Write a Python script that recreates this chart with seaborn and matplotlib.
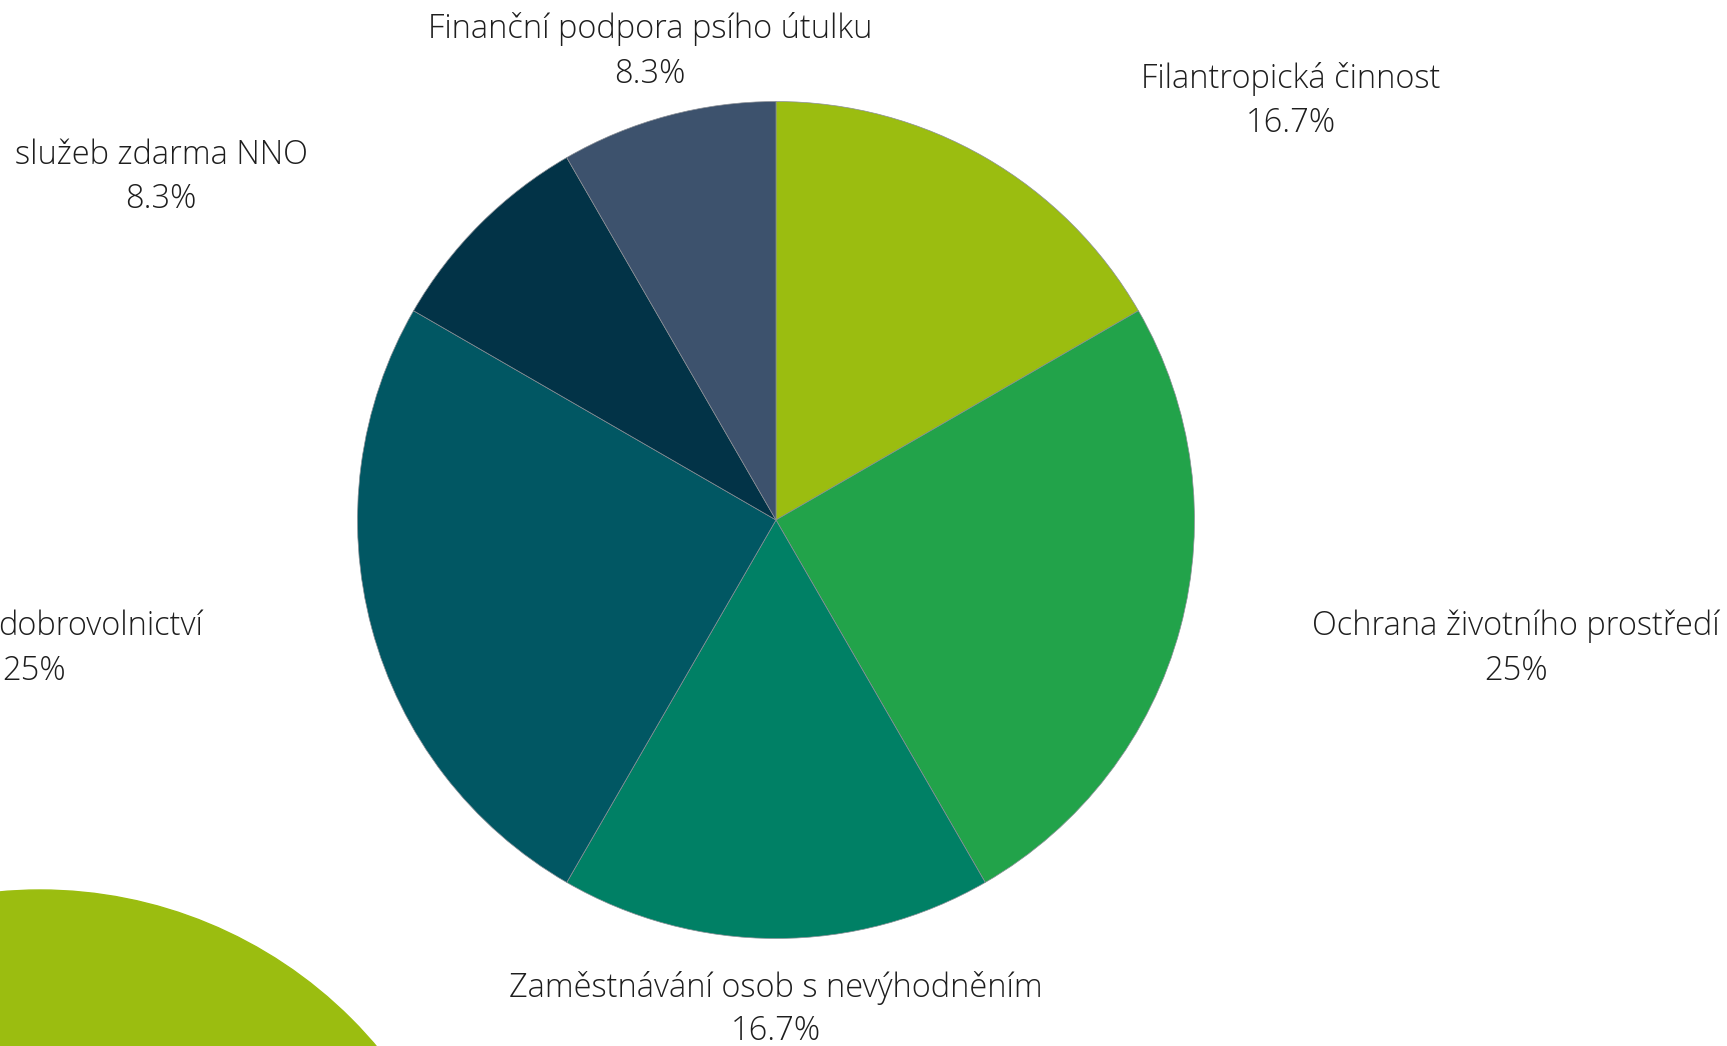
import matplotlib
matplotlib.use("AGG")
import matplotlib.pyplot as plt
from matplotlib.patches import Circle
import seaborn as sns

# data
labels = [
    "Filantropická činnost",
    "Ochrana životního prostředí",
    "Zaměstnávání osob s nevýhodněním",
    "dobrovolnictví",
    "služeb zdarma NNO",
    "Finanční podpora psího útulku",
]
values = [2, 3, 2, 3, 1, 1]
pct_text = ["16.7%", "25%", "16.7%", "25%", "8.3%", "8.3%"]
colors = ["#9BBD10", "#22A34A", "#008065", "#015763", "#023347", "#3D526D"]

W, H = 1727, 1046
sns.set_theme(style="white")
plt.rcParams["font.family"] = ["Open Sans", "DejaVu Sans"]

fig = plt.figure(figsize=(W / 100, H / 100), dpi=100)
ax = fig.add_axes([0, 0, 1, 1])

ax.pie(
    values,
    colors=sns.color_palette(colors),
    startangle=90,
    counterclock=False,
    center=(776, H - 520),
    radius=418.5,
    wedgeprops=dict(linewidth=0.5, edgecolor="#8a8f96"),
)

# decorative circle at bottom-left
ax.add_patch(Circle((40, H - 1330), 440, color="#9BBD10", zorder=0))

# label positions (pixel coords, top-left origin), centered
pos = [
    (1291, 79, 123),
    (1516, 626, 671),
    (776, 988, 1031),
    (None, 626, 671),
    (161, 155, 199),
    (650, 29, 74),
]
fs = 23.5
txt = dict(fontsize=fs, fontweight="light", color="#1e1e1e", va="center")
for lab, pct, (x, y1, y2) in zip(labels, pct_text, pos):
    if x is None:
        ax.text(-2, H - y1, lab, ha="left", **txt)
        ax.text(34, H - y2, pct, ha="center", **txt)
        continue
    ax.text(x, H - y1, lab, ha="center", **txt)
    ax.text(x, H - y2, pct, ha="center", **txt)

ax.set_xlim(0, W)
ax.set_ylim(0, H)
ax.set_aspect("equal")
ax.axis("off")

fig.savefig("out.png", dpi=100, facecolor="white")
